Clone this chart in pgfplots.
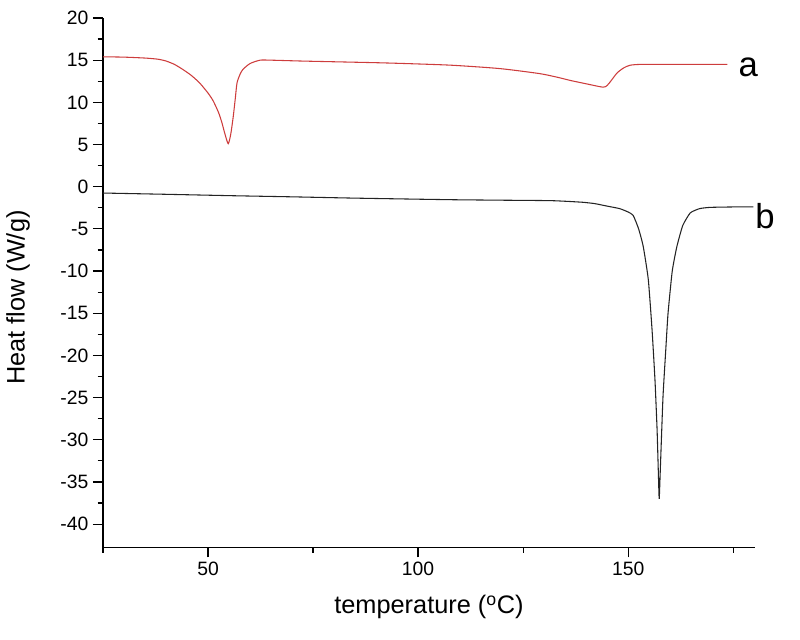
\documentclass[border=0pt]{standalone}
\usepackage{pgfplots}
\pgfplotsset{compat=1.18}
\usepackage{fontspec}
\setmainfont{Liberation Sans}
\definecolor{curvea}{RGB}{205,60,60}
\definecolor{curveb}{RGB}{35,35,35}
\begin{document}
\begin{tikzpicture}
\begin{axis}[
  name=ax,
  scale only axis,
  width=489pt, height=397pt,
  xmin=25, xmax=180.2, ymin=-42.75, ymax=20,
  axis x line*=bottom, axis y line*=left,
  axis line style={-, line width=0.9pt, black},
  tick align=outside,
  xtick={50,100,150}, minor xtick={25,75,125,175},
  ytick={-40,-35,...,20}, minor ytick={-37.5,-32.5,...,17.5},
  major tick length=7.5pt, minor tick length=4pt,
  every tick/.style={black, line width=0.9pt},
  /pgf/number format/assume math mode=true,
  xticklabel={\fontsize{14.5}{16}\selectfont\pgfmathprintnumber{\tick}},
  yticklabel={\fontsize{14.5}{16}\selectfont\pgfmathprintnumber{\tick}},
  xlabel={temperature ($^{\mathrm{o}}$C)},
  ylabel={Heat flow (W/g)},
  label style={font=\fontsize{19}{22}\selectfont},
  xlabel style={at={(axis description cs:0.5,0)}, anchor=center, yshift=-45pt},
  ylabel style={at={(axis description cs:-0.1304,0.4716)}, anchor=center},
  clip=false,
]
\addplot[curvea, line width=0.8pt, smooth, tension=0.4] coordinates {
(25,15.4) (30,15.36) (35,15.25) (38,15.12) (40,14.9) (42,14.5) (44,13.9) (46,13.2) (48,12.3)
(50,11.1) (51.2,10.2) (52.5,8.8) (53.3,7.6) (54,6.3) (54.8,5.1) (55.4,6.2) (56,8.3)
(56.5,10.5) (56.9,12.3) (57.6,13.3) (58.3,13.9) (60,14.6) (62.4,15.0) (65,15.0)
(72,14.9) (81,14.8) (90,14.7) (97,14.6) (108,14.4) (119.5,14.0) (129,13.4)
(133.8,12.9) (136.2,12.6) (140,12.2) (144,11.8) (145,12.0) (146,12.6) (147.4,13.5)
(149,14.1) (150.5,14.4) (153,14.5) (160,14.5) (173.6,14.5)
};
\addplot[curveb, line width=0.8pt, smooth, tension=0.3] coordinates {
(25,-0.75) (40,-0.9) (56,-1.07) (70,-1.2) (84.5,-1.35) (100,-1.48) (109.3,-1.55)
(120,-1.6) (131.4,-1.65) (136,-1.75) (139.3,-1.85) (142,-2.0) (145,-2.3) (148,-2.6)
(150,-3.0) (151.2,-3.4) (152.5,-5.0) (153.6,-7.1) (154.8,-11) (155.7,-17) (156.4,-23)
(156.9,-28.9) (157.2,-34) (157.4,-37.0) (157.7,-33) (158.3,-24.9) (159,-19)
(159.5,-15) (160.5,-10) (161.6,-7.1) (163,-4.6) (164.8,-3.1) (167,-2.6)
(169.5,-2.45) (175,-2.4) (179.8,-2.4)
};
\node[font=\fontsize{26}{28}\selectfont, anchor=center] at (axis cs:178.6,14.1) {a};
\node[font=\fontsize{26}{28}\selectfont, anchor=center] at (axis cs:182.6,-3.5) {b};
\end{axis}
\pgfresetboundingbox
\path[use as bounding box] ([shift={(-77.25pt,-69pt)}]ax.south west) rectangle ([shift={(33.75pt,13.5pt)}]ax.north east);
\end{tikzpicture}
\end{document}
